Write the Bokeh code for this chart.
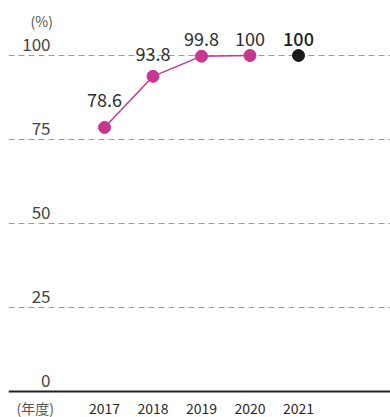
from bokeh.plotting import figure
from bokeh.models import Range1d, ColumnDataSource
from bokeh.core.properties import value
from bokeh.embed import file_html
from bokeh.resources import INLINE

years = [2017, 2018, 2019, 2020, 2021]
year_labels = ["2017", "2018", "2019", "2020", "2021"]
rates = [78.6, 93.8, 99.8, 100, 100]
rate_labels = ["78.6", "93.8", "99.8", "100", "100"]
y_ticks = [0, 25, 50, 75, 100]
y_tick_labels = ["0", "25", "50", "75", "100"]

FONT = value("Noto Sans CJK JP")
FONT_MED = value("'Noto Sans CJK JP Medium', 'Noto Sans CJK JP'")
MAGENTA = "#C8378F"

p = figure(width=390, height=417, output_backend="svg", toolbar_location=None,
           x_range=Range1d(2015.02, 2022.897), y_range=Range1d(-7.74, 116.37),
           min_border_left=8, min_border_right=0, min_border_top=0, min_border_bottom=0)
p.axis.visible = False
p.xgrid.visible = False
p.ygrid.ticker = [25, 50, 75, 100]
p.ygrid.grid_line_color = "#9a9a9a"
p.ygrid.grid_line_dash = "6 4"
p.ygrid.grid_line_width = 1
p.outline_line_color = None
p.background_fill_color = "white"
p.border_fill_color = "white"

# baseline axis line
p.hspan(y=[0], line_color="#222222", line_width=2)

# y tick labels (above gridlines)
ty = ColumnDataSource(dict(y=y_ticks, t=y_tick_labels, x=[p.x_range.start] * len(y_ticks)))
p.text(x="x", y="y", text="t", source=ty, x_offset=42, y_offset=-11,
       text_align="right", text_baseline="middle", text_font=FONT,
       text_font_size="17px", text_color="#444444")
p.text(x=[p.x_range.start], y=[116.37], text=["(%)"], x_offset=22, y_offset=20,
       text_align="left", text_baseline="middle", text_font=FONT,
       text_font_size="14px", text_color="#555555")

# x labels
xs = ColumnDataSource(dict(x=years, t=year_labels, y=[0] * len(years)))
p.text(x="x", y="y", text="t", source=xs, y_offset=17, text_align="center",
       text_baseline="middle", text_font=FONT, text_font_size="14px",
       text_color="#2a2a2a")
p.text(x=[p.x_range.start], y=[0], text=["(年度)"], x_offset=8, y_offset=17,
       text_align="left", text_baseline="middle", text_font=FONT,
       text_font_size="14px", text_color="#555555")

# line and points (2017-2020 magenta, 2021 black)
p.line(years[:4], rates[:4], line_color=MAGENTA, line_width=1.5)
p.scatter(years[:4], rates[:4], size=12, fill_color=MAGENTA, line_color=MAGENTA)
p.scatter(years[4:], rates[4:], size=12, fill_color="#1a1a1a", line_color="#1a1a1a")

# value labels
lab = ColumnDataSource(dict(x=years[:4], y=rates[:4], t=rate_labels[:4],
                            dy=[-27, -22, -17, -17]))
p.text(x="x", y="y", text="t", source=lab, y_offset="dy",
       text_align="center", text_baseline="middle", text_font=FONT,
       text_font_size="18px", text_color="#2e2e2e")
p.text(x=years[4:], y=rates[4:], text=rate_labels[4:], y_offset=-17,
       text_align="center", text_baseline="middle", text_font=FONT_MED,
       text_font_size="18px", text_color="#1e1e1e")

open("out.html", "w").write(file_html(p, INLINE))
